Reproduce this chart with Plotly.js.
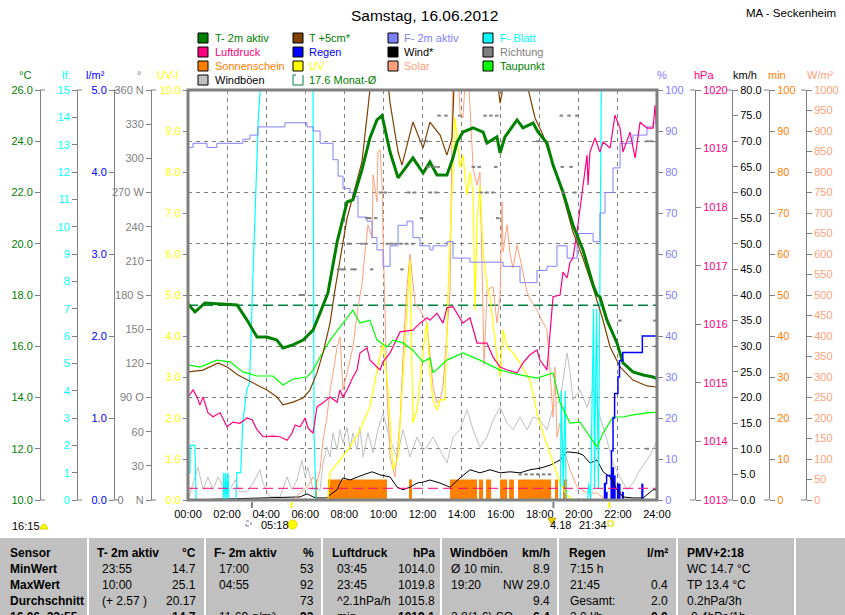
<!DOCTYPE html>
<html><head><meta charset="utf-8">
<script src="https://cdn.plot.ly/plotly-3.0.1.min.js"></script>
<style>html,body{margin:0;padding:0;background:#fff}#chart{width:845px;height:615px}</style>
</head><body><div id="chart"></div>
<script>
// ================= DATA =================
const hourTicks = [0,2,4,6,8,10,12,14,16,18,20,22,24];
const hourLabels = ['00:00','02:00','04:00','06:00','08:00','10:00','12:00','14:00','16:00','18:00','20:00','22:00','24:00'];

// T- 2m aktiv (°C)
const t2mH = [0,0.36,0.87,1.5,2.51,3.02,3.53,4.04,4.55,4.86,5.37,5.89,6.4,6.76,7.16,7.63,8.14,8.44,8.9,9.31,9.67,9.93,10.34,10.75,11.21,11.51,12.03,12.38,12.74,13.25,13.56,13.77,14.07,14.59,15.1,15.3,15.81,15.97,16.22,16.84,17.14,17.66,17.91,18.37,18.68,19.19,19.7,20.21,20.73,20.93,21.08,21.44,21.95,22.26,22.77,23.29,23.8,24];
const t2mV = [17.65,17.34,17.69,17.65,17.61,17.02,16.36,16.36,16.24,15.93,16.05,16.24,16.63,17.3,18.08,20.07,21.63,21.71,22.88,24.13,24.83,25.0,23.58,22.57,23.07,23.35,22.76,23.19,22.68,22.68,23.35,23.97,24.36,24.52,24.36,23.93,24.17,23.54,24.17,24.83,24.52,24.71,24.36,23.93,23.07,22.02,20.73,19.76,18.39,18.0,17.92,17.02,16.13,15.35,15.0,14.88,14.8,14.74];

// T +5cm* (°C)
const t5H = [0,0.77,1.54,2.0,2.56,3.02,3.53,4.04,4.55,4.86,5.37,5.89,6.24,6.6,6.91,7.27,7.52,8.14,8.44,8.9,9.21,9.52,9.83,10.13,10.34,10.75,10.95,11.51,12.03,12.38,12.9,13.25,13.51,13.66,14.69,15.81,15.97,16.22,16.73,17.35,17.76,18.17,18.68,19.19,19.7,20.21,20.73,21.19,21.6,22.11,22.77,23.49,24];
const t5V = [15.0,15.07,15.35,15.19,14.88,14.68,14.49,14.29,14.02,13.71,13.82,13.98,14.29,14.96,15.74,16.91,18.2,21.0,21.9,23.19,25.3,27.5,28,27,25.5,23.58,23.07,24.75,23.74,24.75,24.24,23.46,24.13,27,28,26.5,25.49,26.5,27.5,26.2,24.91,24.24,23.07,21.9,20.46,19.44,18.27,17.14,15.97,15.19,14.68,14.45,14.41];

// Taupunkt (°C)
const tdH = [0,0.61,1.48,2.15,2.81,3.53,4.35,4.86,5.37,6.09,6.4,6.76,7.27,7.78,8.14,8.44,8.8,9.31,9.67,10.18,10.49,11.0,11.51,12.03,12.38,12.54,13.25,14.07,14.94,15.97,16.99,17.86,18.68,19.04,19.55,20.06,20.57,20.93,21.24,21.75,22.26,22.77,23.49,24];
const tdV = [15.27,15.19,15.46,15.39,15.0,14.84,14.84,14.49,14.72,14.8,15.07,15.58,16.24,16.75,17.1,17.41,16.91,17.02,16.24,15.97,16.24,16.13,15.85,15.39,15.54,14.96,15.46,15.74,15.46,15.07,14.88,14.76,14.96,13.79,13.0,13.04,12.46,12.07,12.61,13.24,13.24,13.32,13.4,13.43];

// F- 2m aktiv (%)
const fH = [0,0.26,0.77,0.97,1.28,1.48,2.56,2.81,3.17,3.58,4.86,4.96,5.89,6.09,6.4,6.76,7.27,7.42,7.68,7.93,8.29,8.44,8.7,9.16,9.42,9.67,9.98,10.34,10.75,11.21,11.51,11.87,12.38,12.54,13.25,13.56,14.43,15.3,16.12,16.99,17.86,18.37,18.88,19.4,19.91,20.21,20.73,21.08,21.34,21.75,22.11,22.77,23.49,23.8,24];
const fV = [86,87,87,86,86,87,87,88,89,91,91,92,92,91,90,87,87,83,79,76,75,74,69,68,64,61,57,62,67,68,64,62,61,62,63,59,58,58,57,53,56,57,62,59,65,65,63,70,75,81,87,89,91,92,92];

// F- Blatt (lf)
const lfH = [0,0.1,0.12,0.35,0.42,1.8,1.83,1.9,1.93,2.0,2.05,2.1,2.45,2.5,2.7,2.8,3.0,3.15,3.3,3.45,3.6,3.7,6.4,6.45,6.55,19.05,19.1,19.2,19.3,19.35,20.45,20.5,20.6,20.75,20.8,20.9,21.0,21.15,24];
const lfV = [1,1,2,2,0,0,1,0,1,0,1,0,0,1,1,2.8,4,4.3,7.7,11,14,15,15,2.5,0,0,4,0.5,4,0,0,0.6,0,7,0.4,7,0.4,15,15];

// Luftdruck (hPa)
const pH = [0,0.26,0.46,0.61,0.77,1.02,1.28,1.64,2.0,2.3,2.66,3.02,3.28,3.53,3.84,4.35,4.71,5.07,5.32,5.48,5.73,5.99,6.14,6.4,6.6,6.91,7.27,7.63,7.78,7.93,8.14,8.44,8.65,8.8,9.16,9.31,9.67,9.83,9.98,10.34,10.85,11.51,11.87,12.23,12.38,12.74,13.05,13.25,13.56,13.77,14.07,14.43,14.79,15.3,15.61,15.97,16.33,16.84,17.14,17.5,17.86,18.01,18.37,18.68,19.04,19.19,19.4,19.55,19.7,19.91,20.21,20.42,20.47,20.57,20.83,21.08,21.24,21.6,21.85,22.11,22.26,22.62,22.88,23.13,23.49,23.8,23.9,24];
const pV = [1014.76,1014.88,1014.76,1014.62,1014.76,1014.49,1014.42,1014.49,1014.25,1014.33,1014.31,1014.40,1014.37,1014.20,1014.08,1014.09,1014.08,1014.02,1014.14,1014.28,1014.25,1014.40,1014.23,1014.14,1014.59,1014.66,1014.76,1014.67,1014.88,1014.76,1014.88,1015.10,1015.22,1015.51,1015.60,1015.39,1015.27,1015.22,1015.36,1015.51,1015.87,1015.90,1016.02,1016.11,1016.07,1016.19,1016.02,1016.28,1016.30,1016.19,1016.02,1016.11,1015.68,1015.68,1015.44,1015.27,1015.22,1015.17,1015.34,1015.48,1015.56,1015.39,1015.22,1016.47,1016.5,1016.89,1016.79,1017.06,1017.13,1017.58,1018.38,1018.89,1018.38,1018.94,1019.18,1018.94,1019.11,1019.01,1019.57,1019.35,1018.94,1019.28,1018.84,1019.45,1019.35,1019.35,1019.74,1019.23];
const pressureRef = 1013.2;

// Wind* (km/h)
const wH = [0,5.73,6.09,6.4,6.6,7.11,7.27,7.63,7.78,7.93,8.29,8.65,8.96,9.42,9.83,10.34,10.7,11.0,11.36,11.72,12.03,12.38,12.9,13.41,13.92,14.43,14.94,15.46,15.97,16.48,16.99,17.5,18.01,18.53,19.04,19.4,19.91,20.21,20.57,20.93,21.24,21.6,21.95,22.26,22.77,23.29,23.49,23.8,24];
const wV = [0,0.6,1.2,0.6,0.4,0.4,1.0,2.0,3.3,4.3,3.9,4.5,4.9,5.5,4.9,4.5,2.5,2.0,2.5,3.3,3.5,3.9,3.3,2.5,4.3,5.9,5.3,5.9,5.3,5.5,5.3,5.9,6.2,6.8,7.8,9.4,9.2,8.8,7.2,7.8,5.5,4.5,2.0,0.6,0.4,0.4,1.0,2.0,2.0];

// Windböen (km/h)
const gH = [0,0.26,0.51,0.77,1.02,1.28,1.54,1.79,2.15,2.41,2.66,3.02,3.33,3.68,3.84,4.2,4.71,5.07,5.32,5.58,5.83,5.99,6.14,6.4,6.76,6.91,7.11,7.27,7.42,7.63,7.78,7.93,8.14,8.29,8.44,8.65,8.8,8.96,9.21,9.47,9.72,9.98,10.34,10.7,11.0,11.36,11.72,12.03,12.23,12.54,12.9,13.25,13.56,13.92,14.28,14.59,14.94,15.3,15.61,15.97,16.33,16.63,16.99,17.35,17.66,18.01,18.37,18.68,19.04,19.4,19.55,19.7,20.06,20.42,20.73,21.08,21.44,21.75,22.11,22.47,22.77,23.13,23.49,23.8,24];
const gV = [0,3.3,6.4,2.0,4.5,2.0,4.5,2.5,2.0,3.9,1.6,1.6,3.3,5.9,3.3,0.6,0.6,4.5,2.0,3.9,7.8,4.5,6.4,2.0,2.0,7.2,10.3,8.4,13.1,9.8,13.7,11.1,14.2,9.8,13.1,9.8,14.2,8.4,13.1,9.2,13.7,17.0,11.7,8.4,13.7,8.4,12.3,9.8,10.3,12.3,9.8,7.2,12.3,13.7,17.6,13.7,10.3,12.3,15.6,18.1,15.0,13.7,16.2,13.7,16.2,15.6,13.7,18.1,19.5,28.7,24.8,19.5,21.5,18.1,22.0,16.2,11.7,7.2,4.5,2.0,3.3,5.9,7.8,9.8,11.7];

// UV (UV-I)
const uvH = [0,7.16,7.27,7.78,8.29,8.8,9.31,9.67,9.98,10.24,10.49,10.75,10.95,11.21,11.36,11.51,11.72,11.87,12.03,12.23,12.38,12.54,12.74,12.9,13.15,13.3,13.51,13.66,13.77,13.92,14.07,14.28,14.43,14.59,14.69,14.79,14.94,15.1,15.3,15.46,15.81,15.97,16.12,16.33,16.63,16.99,17.5,17.86,18.17,18.68,19.04,19.4,19.7,24];
const uvV = [0,0,0.68,0.98,1.29,1.71,2.27,3.17,3.83,2.68,0.73,1.05,2.68,4.71,5.85,1.88,2.2,2.85,3.66,4.32,3.1,2.44,2.2,2.44,2.44,4.95,7.5,9.32,8.83,8.1,8.41,7.44,8.0,7.51,4.63,6.71,7.68,6.05,5.24,4.95,3.49,3.0,4.15,3.73,3.59,3.34,2.93,2.12,1.63,0.9,0.41,0.12,0,0];

// Solar (W/m²)
const sH = [0,5.37,5.73,6.09,6.4,6.6,6.76,6.91,7.11,7.27,7.42,7.63,7.78,7.93,8.14,8.44,8.7,8.9,9.06,9.21,9.42,9.47,9.67,9.72,9.83,9.93,9.98,10.08,10.18,10.34,10.59,10.85,11.05,11.21,11.36,11.62,11.87,12.23,12.54,12.74,12.9,13.05,13.41,13.56,13.77,13.92,14.07,14.28,14.43,14.59,14.79,14.94,15.05,15.15,15.3,15.61,15.81,15.97,16.07,16.12,16.33,16.48,16.63,16.84,16.99,17.14,17.35,17.5,17.86,18.17,18.37,18.53,18.68,18.78,18.88,19.04,19.19,19.55,19.91,20.42,20.93,21.24,21.44,24];
const sV = [0,0,17,32,56,44,73,146,202,268,310,373,398,268,310,373,471,524,605,671,639,793,727,849,854,768,646,432,268,105,56,188,400,520,600,480,463,432,276,237,244,276,512,1100,1100,946,932,1100,971,810,768,800,566,330,512,520,432,495,727,605,671,600,566,622,590,556,507,490,463,432,415,310,202,324,154,188,129,73,32,17,17,5,0,0];

// Sonnenschein (min per 5-min interval)
const sunStart = [6.5,7.16,11.31,13.41,14.89,15.25,15.97,16.43,16.89,18.78,19.19];
const sunEnd   = [6.6,10.18,11.46,14.79,15.1,15.51,16.33,16.68,18.58,18.94,19.4];
const sunMin   = [5,5,5,5,5,5,5,5,5,5,5];

// Regen (l/m² per interval)
const rainH = [21.33,21.42,21.67,21.75,21.83,22.0,22.08,22.25,23.25];
const rainV = [0.2,0.1,0.3,0.4,0.3,0.2,0.2,0.1,0.2];

// Richtung (°)
const dirH = [5.75,5.9,7.7,7.85,8.0,8.4,8.55,8.2,8.3,8.9,9.1,9.15,9.3,9.6,9.4,9.85,10.1,10.2,10.4,10.6,10.9,11.2,11.5,10.95,11.3,11.6,11.9,12.2,11.95,12.3,12.6,12.8,12.4,12.7,12.85,13.2,13.9,14.6,14.9,15.0,15.3,15.6,15.2,15.5,15.8,15.75,15.85,17.9,17.0,17.3,17.6,17.9,18.2,18.5,19.1,19.5,19.9,19.15,19.6,19.2,19.8,22.1,23.5,23.7,23.9,23.95,23.5];
const dirV = [180,180,202.5,202.5,202.5,202.5,202.5,225,225,225,225,247.5,247.5,247.5,202.5,270,270,225,225,225,225,225,225,202.5,270,270,315,315,247.5,292.5,292.5,292.5,270,270,337.5,337.5,337.5,292.5,292.5,270,270,270,337.5,337.5,337.5,292.5,247.5,315,22.5,22.5,22.5,22.5,22.5,22.5,337.5,337.5,337.5,292.5,292.5,270,270,157.5,315,315,157.5,135,45];
const dirTicks = [0,30,60,90,120,150,180,210,240,270,300,330,360];
const dirLabels = ['0\u00a0\u00a0\u00a0\u00a0N','30','60','90\u00a0O','120','150','180\u00a0S','210','240','270\u00a0W','300','330','360\u00a0N'];

const monthAvgT = 17.6;
const markGray = [3.27, 18.7];
const sunriseH = 5.3, sunsetH = 21.567;

// Table
const tableHead = ['T- 2m aktiv','F- 2m aktiv','Luftdruck','Windböen','Regen','PMV+2:18'];
const tableUnit = ['°C','%','hPa','km/h','l/m²',''];
const rowLabels = ['MinWert','MaxWert','Durchschnitt','16.06. 23:55'];
const tableLeft = [
  ['23:55','10:00','(+ 2.57 )',''],
  ['17:00','04:55','','11.69 g/m³'],
  ['03:45','23:45','^2.1hPa/h','min'],
  ['Ø 10 min.','19:20','','2.8(1.6) SO'],
  ['7:15 h','21:45','Gesamt:','2.0 l/h'],
  ['WC 14.7 °C','TP 13.4 °C','0.2hPa/3h','-0.4hPa/1h']
];
const tableRight = [
  ['14.7','25.1','20.17','14.7'],
  ['53','92','73','92'],
  ['1014.0','1019.8','1015.8','1019.1'],
  ['8.9','NW 29.0','9.4','6.4'],
  ['','0.4','2.0','0.0'],
  ['','','','']
];

// ================= LAYOUT HELPERS =================
const W = 845, H = 615;
const px = x => x / W;
const py = y => 1 - y / H;
const X0 = 188, X1 = 657, Y0 = 90, Y1 = 500;
const C = {green:'#008000', brown:'#804000', lav:'#8080FF', cyan:'#00FFFF', pink:'#FF0080', blue:'#0000FF',
  gray:'#808080', orange:'#FF8000', yellow:'#FFFF00', salmon:'#FFA07A', lime:'#00FF00', silver:'#C0C0C0'};
const FONT = 'Liberation Sans, Arial, sans-serif';

const traces = [];
const L = (x, y, ax, color, width, extra) => Object.assign({type:'scatter', mode:'lines', x:x, y:y, yaxis:ax,
  line:{color:color, width:width}, hoverinfo:'skip'}, extra || {});

traces.push(L([0,24],[monthAvgT,monthAvgT],'y','#008040',1.3,{line:{color:'#008040',width:1.3,dash:'10px,5px'}}));
traces.push({type:'bar', x: sunStart.map((s,i)=>(s+sunEnd[i])/2), width: sunStart.map((s,i)=>sunEnd[i]-s),
  y: sunMin, yaxis:'y2', marker:{color:C.orange, line:{width:0}}, hoverinfo:'skip'});
traces.push({type:'bar', x: rainH, y: rainV, width: 0.11, yaxis:'y3', marker:{color:C.blue, line:{width:0}}, hoverinfo:'skip'});
traces.push(L(gH, gV, 'y4', C.silver, 1));
traces.push(L(wH, wV, 'y4', '#000000', 1));
traces.push(L(sH, sV, 'y5', C.salmon, 1));
traces.push(L(uvH, uvV, 'y6', C.yellow, 1.2));
traces.push(L(lfH, lfV, 'y7', C.cyan, 1.2));
traces.push(L(fH, fV, 'y8', C.lav, 1, {line:{color:C.lav,width:1,shape:'hv'}}));
traces.push(L([0,24],[pressureRef,pressureRef],'y9',C.pink,1,{line:{color:C.pink,width:1,dash:'10px,5px'}}));
traces.push(L(pH, pV, 'y9', C.pink, 1.2));
traces.push(L(tdH, tdV, 'y10', C.lime, 1.2));
traces.push(L(t5H, t5V, 'y10', C.brown, 1.2));
traces.push(L(t2mH, t2mV, 'y10', C.green, 3));
const cum = []; rainV.reduce((a,v)=>{const s=Math.round((a+v)*100)/100; cum.push(s); return s;},0);
traces.push(L([0].concat(rainH,[24]), [0].concat(cum,[cum[cum.length-1]]), 'y11', C.blue, 1.5, {line:{color:C.blue,width:1.5,shape:'hv'}}));
traces.push({type:'scatter', mode:'markers', x:dirH, y:dirV, yaxis:'y12', hoverinfo:'skip',
  marker:{symbol:'line-ew', size:2.5, color:C.gray, line:{width:2, color:C.gray}}});

function axis(o){
  return Object.assign({anchor:'free', showline:true, linecolor:'#808080', linewidth:1,
    ticks:'outside', ticklen:5, tickwidth:1, tickcolor:'#808080', showgrid:false, zeroline:false, fixedrange:true}, o);
}
const tf = c => ({color:c, size:11, family:FONT});

const layout = {
  width:W, height:H, autosize:false, margin:{l:0,r:0,t:0,b:0,pad:0},
  paper_bgcolor:'#ffffff', plot_bgcolor:'#ffffff', showlegend:false, barmode:'overlay',
  font:{family:FONT, size:11, color:'#000'}, hovermode:false,
  xaxis:{domain:[px(X0),px(X1)], range:[0,24], tickvals:hourTicks, ticktext:hourLabels, anchor:'y',
    showgrid:true, gridcolor:'#808080', griddash:'4px,4px', gridwidth:1, zeroline:false, showline:false,
    ticks:'outside', ticklen:4, tickcolor:'rgba(0,0,0,0)', tickfont:tf('#000'), fixedrange:true},
  yaxis: axis({domain:[py(Y1),py(Y0)], range:[10,26], dtick:2, tick0:10, tickformat:'.1f', position:px(40), side:'left',
    tickfont:tf(C.green), showgrid:true, gridcolor:'#808080', griddash:'4px,4px', gridwidth:1}),
  yaxis2: axis({overlaying:'y', range:[0,100], dtick:10, tick0:0, position:px(769), side:'right', tickfont:tf(C.orange)}),
  yaxis3: axis({overlaying:'y', range:[0,5], dtick:1, tick0:0, tickformat:'.1f', position:px(114), side:'left', tickfont:tf(C.blue)}),
  yaxis4: axis({overlaying:'y', range:[0,80], dtick:5, tick0:0, tickformat:'.1f', position:px(732), side:'right', tickfont:tf('#000')}),
  yaxis5: axis({overlaying:'y', range:[0,1000], dtick:50, tick0:0, position:px(806), side:'right', tickfont:tf(C.salmon)}),
  yaxis6: axis({overlaying:'y', range:[0,10], dtick:1, tick0:0, tickformat:'.1f', position:px(X0), side:'left', tickfont:tf(C.yellow)}),
  yaxis7: axis({overlaying:'y', range:[0,15], dtick:1, tick0:0, position:px(77), side:'left', tickfont:tf(C.cyan)}),
  yaxis8: axis({overlaying:'y', range:[0,100], dtick:10, tick0:0, position:px(X1), side:'right', tickfont:tf(C.lav)}),
  yaxis9: axis({overlaying:'y', range:[1013,1020], dtick:1, tick0:1013, position:px(695), side:'right', tickfont:tf(C.pink)}),
  yaxis10: {overlaying:'y', range:[10,26], visible:false, fixedrange:true},
  yaxis11: {overlaying:'y', range:[0,5], visible:false, fixedrange:true},
  yaxis12: axis({overlaying:'y', range:[0,360], tickvals:dirTicks, ticktext:dirLabels, position:px(151), side:'left', tickfont:tf(C.gray)}),
  shapes:[], annotations:[]
};
const S = layout.shapes, A = layout.annotations;
const ann = (x, y, text, o) => A.push(Object.assign({xref:'paper', yref:'paper', x:px(x), y:py(y), text:text, showarrow:false,
  xanchor:'center', yanchor:'middle', font:{size:11, color:'#000', family:FONT}}, o || {}));
const rect = (x0,y0,x1,y1,o) => S.push(Object.assign({type:'rect', xref:'paper', yref:'paper', x0:px(x0), x1:px(x1), y0:py(y1), y1:py(y0)}, o));
const seg = (x0,y0,x1,y1,color,width,o) => S.push(Object.assign({type:'line', xref:'paper', yref:'paper', x0:px(x0), x1:px(x1), y0:py(y0), y1:py(y1), line:{color:color,width:width}}, o||{}));

rect(X0, Y0, X1, Y1, {line:{color:'#808080', width:3}, layer:'above'});
[40,77,114,151].forEach(x => { seg(x,Y0,x+5,Y0,'#808080',1); seg(x,Y1,x+5,Y1,'#808080',1); });
[695,732,769,806].forEach(x => { seg(x-5,Y0,x,Y0,'#808080',1); seg(x-5,Y1,x,Y1,'#808080',1); });

ann(424, 15, 'Samstag, 16.06.2012', {font:{size:15.5, color:'#000', family:FONT}});
ann(838, 13, 'MA - Seckenheim', {xanchor:'right', font:{size:11.5, color:'#000', family:FONT}});

[[25,'°C',C.green],[65,'lf',C.cyan],[95,'l/m²',C.blue],[139,'°',C.gray],[167,'UV-I',C.yellow],
 [662,'%',C.lav],[704,'hPa',C.pink],[745,'km/h','#000'],[777,'min',C.orange],[820,'W/m²',C.salmon]]
 .forEach(t => ann(t[0], 75, t[1], {font:{size:11, color:t[2], family:FONT}}));

const legendCols = [
  [['T- 2m aktiv',C.green,C.green],['Luftdruck',C.pink,C.pink],['Sonnenschein',C.orange,C.orange],['Windböen',C.silver,'#000']],
  [['T +5cm*',C.brown,C.green],['Regen',C.blue,C.blue],['UV',C.yellow,C.yellow],[monthAvgT.toFixed(1)+' Monat-Ø',null,C.green]],
  [['F- 2m aktiv',C.lav,C.lav],['Wind*','#000000','#000'],['Solar',C.salmon,C.salmon]],
  [['F- Blatt',C.cyan,C.cyan],['Richtung',C.gray,C.gray],['Taupunkt',C.lime,C.green]]
];
const legSqX = [198,293,388,483], legTxX = [213,307,402,498], legRowY = [38,52,66,80];
legendCols.forEach((col, ci) => col.forEach((it, ri) => {
  const sx = legSqX[ci], ry = legRowY[ri];
  if (it[1]) rect(sx, ry-5, sx+10, ry+5, {fillcolor:it[1], line:{color:'#000', width:1}});
  else S.push({type:'path', xref:'paper', yref:'paper', line:{color:'#008040', width:1},
    path:`M ${px(sx+3)} ${py(ry-5)} L ${px(sx)} ${py(ry-5)} L ${px(sx)} ${py(ry+5)} L ${px(sx+10)} ${py(ry+5)} L ${px(sx+10)} ${py(ry-5)}`});
  ann(legTxX[ci], ry, it[0], {xanchor:'left', font:{size:11, color:it[2], family:FONT}});
}));

markGray.forEach(h => S.push({type:'line', xref:'x', yref:'paper', x0:h, x1:h, y0:py(Y1+2), y1:py(Y1+8), line:{color:'#808080', width:2}}));
[sunriseH, sunsetH].forEach(h => S.push({type:'line', xref:'x', yref:'paper', x0:h, x1:h, y0:py(Y1+2), y1:py(Y1+8), line:{color:'#FFFF00', width:2}}));

ann(10, 526, '16:15', {xanchor:'left'});
S.push({type:'path', xref:'paper', yref:'paper', fillcolor:'#FFFF00', line:{color:'#E0D000', width:1},
  path:`M ${px(40)} ${py(529)} Q ${px(44)} ${py(519)} ${px(48)} ${py(529)} Z`});
rect(246, 521, 251, 526, {line:{color:'#7070c0', width:1, dash:'dot'}});
ann(259, 525, '05:18', {xanchor:'left'});
S.push({type:'circle', xref:'paper', yref:'paper', x0:px(288), x1:px(297), y0:py(529), y1:py(520), fillcolor:'#FFFF00', line:{color:'#F0D000', width:1}});
ann(548, 525, '4.18', {xanchor:'left'});
S.push({type:'path', xref:'paper', yref:'paper', fillcolor:'#E8D000', line:{color:'#C8B000', width:1}, layer:'above',
  path:`M ${px(548)} ${py(518)} L ${px(556)} ${py(518)} L ${px(552)} ${py(525)} Z`});
ann(577, 525, '21:34', {xanchor:'left'});
rect(608, 521, 613, 526, {line:{color:'#E8E000', width:1.2}});

rect(0, 538, 845, 615, {fillcolor:'#C0C0C0', line:{width:0}, layer:'below'});
[88,205,322,441,558,677,795].forEach(x => seg(x, 538, x, 615, '#ffffff', 2));
const rowY = [553, 569, 585, 601, 617];
const headX = [95,212,330,448,567,685], leftX = [100,217,335,449,568,685], rightX = [198,316,437,552,670,790];
const TF = () => ({size:12, color:'#000', family:FONT});
ann(8, rowY[0], '<b>Sensor</b>', {xanchor:'left', font:TF()});
rowLabels.forEach((r,i) => ann(8, rowY[i+1], '<b>'+r+'</b>', {xanchor:'left', font:TF()}));
tableHead.forEach((h,c) => {
  ann(headX[c], rowY[0], '<b>'+h+'</b>', {xanchor:'left', font:TF()});
  if (tableUnit[c]) ann(rightX[c], rowY[0], '<b>'+tableUnit[c]+'</b>', {xanchor:'right', font:TF()});
  for (let r = 0; r < 4; r++) {
    const lt = tableLeft[c][r], rt = tableRight[c][r];
    const lx = (c === 5) ? headX[c] : leftX[c];
    if (lt) ann(lx, rowY[r+1], lt, {xanchor:'left', font:TF()});
    if (rt) ann(rightX[c], rowY[r+1], r === 3 ? '<b>'+rt+'</b>' : rt, {xanchor:'right', font:TF()});
  }
});

Plotly.newPlot('chart', traces, layout, {staticPlot:true, displayModeBar:false});
</script></body></html>
